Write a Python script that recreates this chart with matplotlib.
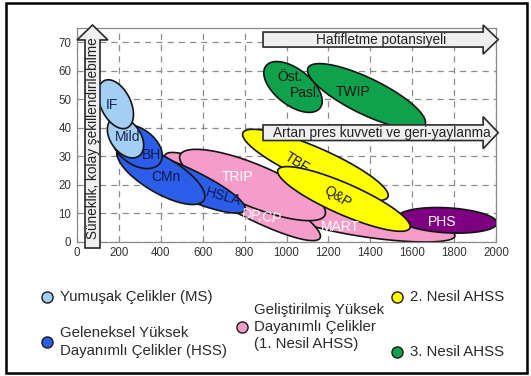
import numpy as np
import matplotlib
matplotlib.use("Agg")
import matplotlib.pyplot as plt
from matplotlib.patches import Polygon, Rectangle

plt.rcParams["font.family"] = ["Liberation Sans", "DejaVu Sans"]

# steel families: major-axis ends (tensile strength MPa, elongation %) + spread (px)
grades = ["MART", "DP,CP", "TRIP", "HSLA", "CMn", "BH", "Mild", "IF",
          "PHS", "TBF", "Q&P", "Öst. Pasl.", "TWIP"]
mpa_lo = [993, 420, 492, 191, 196, 177, 167, 130, 1530, 792, 959, 902, 1103]
elo_lo = [10.4, 30.4, 30.4, 31.5, 32.2, 39.2, 43.1, 56.5, 8.5, 38.2, 25.2, 61.7, 61.0]
mpa_hi = [1804, 1160, 1184, 802, 606, 396, 296, 240, 2005, 1484, 1589, 1160, 1661]
elo_hi = [2.0, 1.3, 9.4, 11.1, 14.6, 27.6, 30.1, 40.0, 6.5, 15.7, 4.8, 46.9, 41.0]
spread = [27, 34, 42, 30, 36, 36, 30, 30, 25, 34, 31, 36, 36]
family = ["ahss1", "ahss1", "ahss1", "hss", "hss", "hss", "ms", "ms",
          "phs", "ahss2", "ahss2", "ahss3", "ahss3"]

# label anchors (MPa, %), rotation
lab_x = [1255, 882, 768, 697, 425, 357, 243, 166, 1741, 1050, 1241, 1017, 1317]
lab_y = [5.2, 8.8, 22.7, 15.7, 22.7, 30.4, 36.7, 48.0, 7.0, 27.6, 15.7, 57.8, 52.5]
lab_rot = [0, -8, 0, -15, 0, 0, 0, 0, 0, -32, -32, 0, 0]

colors = {"ms": "#a3cff5", "hss": "#2b5de8", "ahss1": "#f59cc8",
          "ahss2": "#ffff00", "ahss3": "#0fa14c", "phs": "#7d0080"}
text_col = {"ms": "#1a2550", "hss": "#101a50", "ahss1": "white",
            "ahss2": "#202020", "ahss3": "#151515", "phs": "white"}

fig = plt.figure(figsize=(5.31, 3.76), dpi=100)
W, H = 531, 376
ax = fig.add_axes([77 / W, 1 - 241.7 / H, 419 / W, 213.7 / H])
ax.set_xlim(0, 2000)
ax.set_ylim(0, 75)
ax.set_xticks(range(0, 2001, 200))
ax.set_yticks(range(0, 71, 10))
ax.tick_params(length=0, labelsize=8.3, colors="#333333", pad=4)
for s in ax.spines.values():
    s.set_color("#8a8a8a")
    s.set_linewidth(0.9)
ax.grid(True, color="#8c8c8c", ls=(0, (5, 4)), lw=0.9)
ax.set_axisbelow(True)


def ellipse(x1, y1, x2, y2, w, fc, z):
    p1 = ax.transData.transform((x1, y1))
    p2 = ax.transData.transform((x2, y2))
    c = (p1 + p2) / 2
    d = p2 - p1
    L = np.hypot(*d)
    u = d / L
    v = np.array([-u[1], u[0]])
    t = np.linspace(0, 2 * np.pi, 240)
    pts = c + np.outer(np.cos(t), u) * L / 2 + np.outer(np.sin(t), v) * w / 2
    pts = ax.transData.inverted().transform(pts)
    ax.add_patch(Polygon(pts, closed=True, fc=fc, ec="#141414", lw=1.2, zorder=z))


for i, g in enumerate(grades):
    ellipse(mpa_lo[i], elo_lo[i], mpa_hi[i], elo_hi[i], spread[i],
            colors[family[i]], 2 + i * 0.1)
    tc = text_col[family[i]]
    if g == "Öst. Pasl.":
        ax.text(lab_x[i], lab_y[i], "Öst.", ha="center", va="center", fontsize=10,
                color=tc, zorder=5)
        ax.text(lab_x[i] + 72, lab_y[i] - 5.6, "Pasl.", ha="center", va="center",
                fontsize=10, color=tc, zorder=5)
    else:
        ax.text(lab_x[i], lab_y[i], g, ha="center", va="center", fontsize=10,
                rotation=lab_rot[i], color=tc, zorder=5)


def harrow(x0, x1, yc, bh, hh, hl, text):
    pts = [(x0, yc - bh), (x1 - hl, yc - bh), (x1 - hl, yc - hh), (x1, yc),
           (x1 - hl, yc + hh), (x1 - hl, yc + bh), (x0, yc + bh)]
    ax.add_patch(Polygon(pts, closed=True, fc="#efefef", ec="#2a2a2a", lw=1.2,
                         transform=ax.transAxes, clip_on=False, zorder=8))
    ax.text((x0 + x1 - hl) / 2 + 0.02, yc, text, ha="center", va="center",
            fontsize=9.8, color="#222222", transform=ax.transAxes, zorder=9)


harrow(0.444, 1.0053, 0.946, 0.0351, 0.068, 0.036, "Hafifletme potansiyeli")
harrow(0.444, 1.0053, 0.510, 0.0365, 0.075, 0.036, "Artan pres kuvveti ve geri-yaylanma")

# vertical arrow
xc, y0, y1 = 0.037, -0.0295, 1.014
bw, hw, hl = 0.0179, 0.037, 0.070
pts = [(xc - bw, y0), (xc - bw, y1 - hl), (xc - hw, y1 - hl), (xc, y1),
       (xc + hw, y1 - hl), (xc + bw, y1 - hl), (xc + bw, y0)]
ax.add_patch(Polygon(pts, closed=True, fc="#efefef", ec="#2a2a2a", lw=1.2,
                     transform=ax.transAxes, clip_on=False, zorder=8))
ax.text(xc, 0.483, "Süneklik, kolay şekillendirilebilme", rotation=90, ha="center",
        va="center", fontsize=9.8, color="#222222", transform=ax.transAxes, zorder=9)

# legend in figure pixel space
lg = fig.add_axes([0, 0, 1, 1], facecolor="none")
lg.set_xlim(0, W)
lg.set_ylim(H, 0)
lg.axis("off")
leg_items = [
    ("ms", 46.5, 297, "Yumuşak Çelikler (MS)"),
    ("hss", 46.5, 342, "Geleneksel Yüksek\nDayanımlı Çelikler (HSS)"),
    ("ahss1", 241.5, 327, "Geliştirilmiş Yüksek\nDayanımlı Çelikler\n(1. Nesil AHSS)"),
    ("ahss2", 396.5, 297, "2. Nesil AHSS"),
    ("ahss3", 396.5, 352, "3. Nesil AHSS"),
]
for fam, cx, cy, txt in leg_items:
    lg.plot([cx], [cy], "o", ms=8, mfc=colors[fam], mec="#1a1a1a", mew=1.0)
    lg.text(cx + 13, cy, txt, ha="left", va="center", fontsize=10.8,
            color="#2a2a2a", linespacing=1.3)
lg.add_patch(Rectangle((6, 3), 521, 370, fc="none", ec="black", lw=1.8))

fig.savefig("out.png", dpi=100)
